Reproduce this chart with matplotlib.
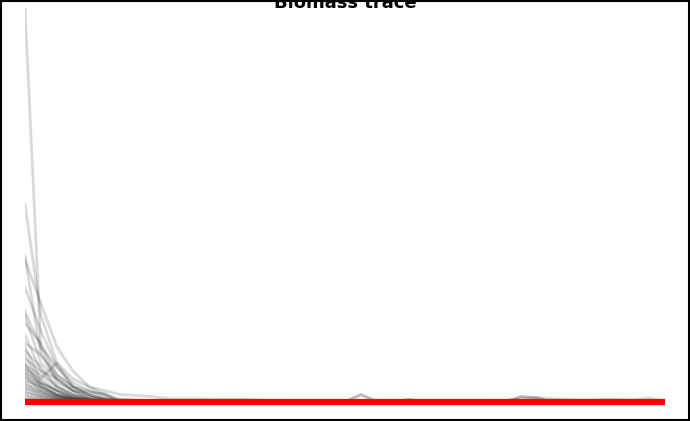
import numpy as np
import matplotlib.pyplot as plt

# time steps 0..40
steps = np.arange(41)

# first six values of each simulated trace
heads = [
    [100, 14, 5, 3, 2.5, 2.3],
    [50, 22, 10, 6, 4, 3],
    [37, 12, 7, 4, 3, 2],
    [36, 25, 14, 8, 4, 2],
    [29, 18, 9, 5, 3, 1.5],
    [23, 14, 9, 4, 2, 1],
    [22, 10, 6, 3, 1.5, 0.8],
    [20, 15, 7, 4, 2, 1],
    [17, 8, 4, 2, 1, 0.5],
    [15, 12, 6, 3, 1.5, 0.8],
    [14, 6, 10, 4, 2, 0.8],
    [13, 9, 4, 2, 1, 0.5],
    [12, 5, 3, 1.5, 0.8, 0.4],
    [11, 8, 6, 3, 1, 0.6],
    [10, 4, 2, 1.2, 0.6, 0.3],
    [9.5, 7, 4, 2, 0.8, 0.4],
    [9, 5, 3, 1.2, 0.6, 0.3],
    [8.5, 6, 3, 1.5, 0.6, 0.3],
    [8, 4, 2, 1, 0.5, 0.2],
    [7.5, 5, 3, 1.2, 0.5, 0.3],
    [7, 3, 1.5, 0.8, 0.4, 0.2],
    [6.5, 4.5, 2, 1, 0.4, 0.2],
    [6, 3.5, 1.8, 0.8, 0.4, 0.2],
    [5.5, 4, 2, 0.8, 0.3, 0.1],
    [5, 2.5, 1.2, 0.6, 0.3, 0.1],
    [4.5, 3, 1.5, 0.6, 0.2, 0.1],
    [4, 2, 1, 0.5, 0.2, 0.1],
    [3.5, 2.5, 1.2, 0.5, 0.2, 0.1],
    [3, 1.5, 0.8, 0.4, 0.2, 0.1],
    [2.5, 1.8, 0.9, 0.4, 0.2, 0.1],
    [2, 1.2, 0.6, 0.3, 0.1, 0.1],
    [1.5, 1, 0.5, 0.2, 0.1, 0.05],
    [1, 0.7, 0.4, 0.2, 0.1, 0.05],
    [0.8, 0.5, 0.3, 0.1, 0.1, 0.05],
]

# tails (steps 6..40)
tail_long = [2, 1.8, 1.5, 1, 1, 1, 0.8, 0.8, 0.8, 0.6, 0.6, 0.5, 0.5, 0.4, 0.4,
             0.4, 0.6, 0.4, 0.3, 0.3, 0.4, 0.5, 0.4, 0.6, 0.6, 1, 1.2, 1, 0.8, 0.6,
             0.8, 0.8, 0.7, 1.2, 0.3]
tail_bumpy = [0.8, 0.6, 0.5, 0.4, 0.3, 0.3, 0.3, 0.3, 0.3, 0.3, 0.3, 0.3, 0.3, 0.3,
              0.3, 2, 0.3, 0.3, 0.8, 0.2, 0.2, 0.2, 0.2, 0.2, 0.2, 1.5, 1.2, 0.2, 0.2,
              0.2, 0.3, 0.2, 0.2, 0.3, 0.2]
tail_small = [0.2, 0.15, 0.1, 0.1, 0.1, 0.1, 0.1, 0.1, 0.1, 0.1, 0.1, 0.1, 0.1, 0.1,
              0.1, 0.1, 0.1, 0.1, 0.1, 0.1, 0.1, 0.1, 0.1, 0.1, 0.1, 0.1, 0.1, 0.1,
              0.1, 0.1, 0.1, 0.1, 0.1, 0.1, 0.1]

# red reference trace
red_trace = [0.2] * 41

fig = plt.figure(figsize=(6.9, 4.21), dpi=100)
ax = fig.add_axes([0.036, 0.02, 0.928, 0.96])
for i, h in enumerate(heads):
    tail = tail_long if i == 1 else (tail_bumpy if i in (3, 10) else tail_small)
    ax.plot(steps, h + tail, color='black', alpha=0.15, lw=2)
ax.plot(steps, red_trace, color='red', lw=4.5)
ax.set_xlim(0, 40)
ax.set_ylim(-2.5, 99)
ax.axis('off')
fig.text(0.5, 0.993, 'Biomass trace', ha='center', va='center', fontsize=13, fontweight='bold')
fig.patches.append(plt.Rectangle((0.001, 0.002), 0.997, 0.996, transform=fig.transFigure,
                                 fill=False, edgecolor='black', lw=1.5))
fig.savefig('out.png', dpi=100)
